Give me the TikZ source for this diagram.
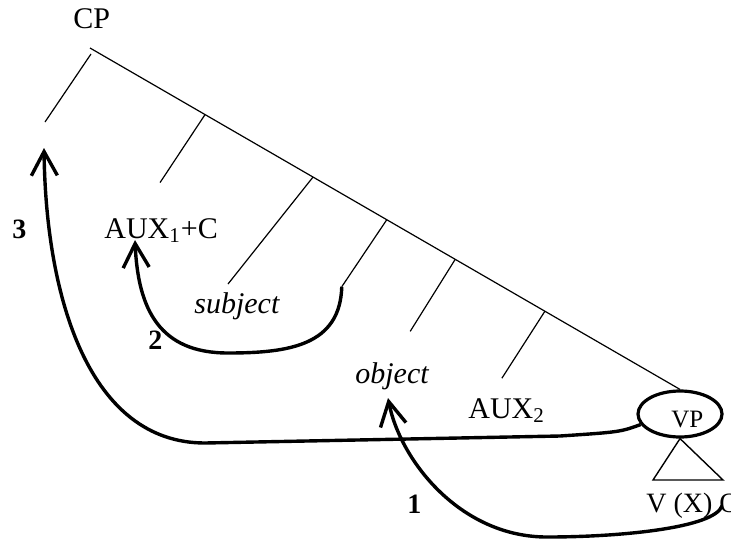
\documentclass[tikz,border=0pt]{standalone}
\usepackage{fontspec}
\setmainfont{Liberation Serif}
\usetikzlibrary{arrows.meta, calc, shapes.geometric}

\tikzset{
branch/.style={line width=0.6pt},
move/.style={line width=1.7pt, -{Straight Barb[length=12pt,width=13pt]}},
lab/.style={anchor=base west, inner sep=0pt, font=\fontsize{15}{18}\selectfont},
num/.style={anchor=base west, inner sep=0pt, font=\fontsize{14}{16}\selectfont\bfseries},
}

\begin{document}
\begin{tikzpicture}[x=0.5pt,y=-0.5pt]
\useasboundingbox (0,0) rectangle (731,540);

\coordinate (root) at (90,48);
\node[ellipse, draw, line width=1.6pt, minimum width=42pt, minimum height=23pt, inner sep=0pt] (vp) at (680,414) {};
\node[anchor=base west, inner sep=0pt, font=\fontsize{12.5}{14}\selectfont] (vptext) at (671,427) {VP};

%tree:
\draw[branch] (root) -- (vp.north);
\draw[branch] ($(root)+(1,6)$) -- ++(-46,68);
\draw[branch] ($(root)!0.195!(vp.north)$) -- ++(-45,68);
\draw[branch] ($(root)!0.378!(vp.north)$) -- (228,284);
\draw[branch] ($(root)!0.503!(vp.north)$) -- ++(-45,67) coordinate (b3);
\draw[branch] ($(root)!0.619!(vp.north)$) -- ++(-45,72);
\draw[branch] ($(root)!0.771!(vp.north)$) -- ++(-43,67);
\draw[line width=0.7pt] (vp.south) -- (653,480) -- (723,480) -- cycle;

%labels
\node[lab] (cp) at (73,29) {CP};
\node[lab] (aux1) at (104,238) {AUX\textsubscript{1}+C};
\node[lab] (subj) at (194,313) {\itshape subject};
\node[lab] (obj) at (355,383) {\itshape object};
\node[lab] (aux2) at (468,418) {AUX\textsubscript{2}};
\node[lab, font=\fontsize{14}{16}\selectfont] (vxo) at (646,512) {V (X) O};

\node[num] (n3) at (12,238) {3};
\node[num] (n2) at (148,349) {2};
\node[num] (n1) at (407,513) {1};

%movements
\coordinate (t1) at (388,398);
\coordinate (t2) at (135,240);
\coordinate (t3) at (44,148);
\coordinate (s1) at (722,506);

\draw[move] (s1) .. controls (714,528) and (620,537) .. (547,537) .. controls (460,537) and (400,460) .. (t1);
\draw[move] (b3) .. controls (340,345) and (290,353) .. (228,353) .. controls (160,353) and (138,310) .. (t2);
\draw[move] (vp.195) .. controls (620,432) .. (560,436) -- (205,443) .. controls (90,443) and (46,300) .. (t3);

\end{tikzpicture}
\end{document}
